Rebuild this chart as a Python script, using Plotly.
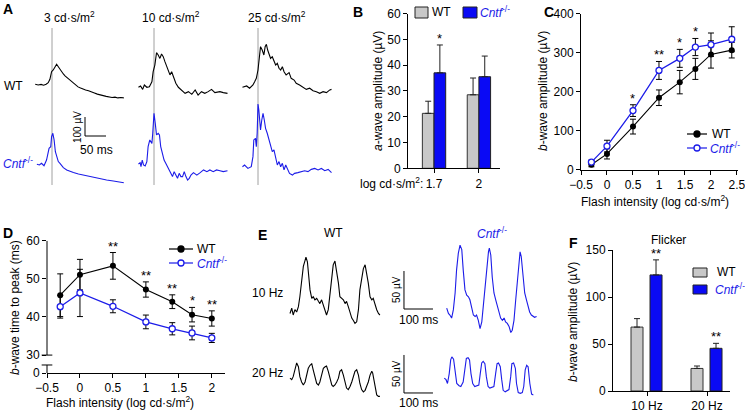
import plotly.graph_objects as go

W, H = 745, 412
FONT = "Liberation Sans, Arial, sans-serif"
BLUE = "#1c1ce8"
BAR_BLUE = "#0a0af5"
GRAY = "#c8c8c8"
CNTF_BLUE = "<span style='color:#1c1ce8'><i>Cntf</i><sup>-/-</sup></span>"

# ---- A: flash ERG traces (time from flash in ms, amplitude in µV) ----
A_WT3_T = [-40, -33, -26, -20, -14, -9, -5, -1, 3, 7, 11, 15, 19, 23, 27, 31, 36, 41, 46, 51,
           56, 62, 68, 74, 80, 87, 94, 101, 108, 115, 122, 129, 136, 143, 150, 157, 164, 171]
A_WT3_V = [4, 0, 3, -1, 4, 12, 30, 70, 79, 96, 109, 96, 82, 68, 58, 48, 38, 28, 18, 10,
           2, -10, -16, -22, -26, -30, -38, -42, -48, -54, -56, -60, -62, -66, -64, -68, -66, -68]
A_CN3_T = [-36, -30, -25, -19, -13, -10, -7, -3, -1, 2, 5, 8, 11, 15, 19, 27, 35, 43, 51, 63,
           75, 86, 98, 114, 130, 146, 162, 171]
A_CN3_V = [4, 0, 9, -4, 26, 70, 88, 96, 149, 167, 132, 70, 44, 18, 9, -14, -26, -35, -40, -47,
           -53, -61, -65, -71, -79, -84, -88, -93]
A_WT10_T = [-37, -32, -27, -23, -17, -11, -5, -2, 2, 6, 10, 14, 18, 22, 26, 30, 34, 38, 42, 46,
            52, 58, 66, 74, 82, 90, 98, 105, 113, 121, 129, 137, 145, 157, 165, 175]
A_WT10_V = [-12, -5, -23, 0, -12, -9, 17, 70, 105, 170, 158, 140, 163, 149, 123, 96, 70, 53, 70, 44,
            9, -12, -26, -44, -35, -49, -26, -53, -35, -44, -35, -23, -40, -35, -40, -44]
A_CN10_T = [-37, -33, -31, -28, -25, -21, -17, -14, -10, -5, -3, 0, 3, 6, 10, 13, 16, 20, 24, 28,
            32, 36, 40, 44, 48, 52, 56, 60, 64, 68, 72, 76, 80, 84, 88, 94, 102, 110, 118, 126,
            133, 141, 149, 157, 165, 175]
A_CN10_V = [5, 12, -9, 26, 0, -5, 18, 97, 132, 114, 167, 272, 219, 158, 167, 158, 97, 53, 26, 9,
            -9, -26, -44, -61, -35, -53, -70, -44, -61, -61, -35, -61, -79, -70, -53, -40, -53, -40, -26, -35,
            -26, -35, -26, -30, -35, -30]
A_WT25_T = [-37, -27, -20, -12, -8, -4, 0, 4, 6, 10, 14, 17, 20, 23, 26, 30, 34, 38, 42, 46,
            50, 54, 58, 62, 67, 74, 79, 86, 91, 99, 107, 115, 123, 131, 139, 147, 155, 163, 171, 175]
A_WT25_V = [-12, -5, -17, 0, 17, 35, 79, 149, 202, 184, 158, 202, 214, 184, 167, 140, 149, 123, 105, 114,
            88, 79, 96, 70, 53, 65, 35, 26, 9, 0, -12, -23, -17, -30, -35, -44, -35, -40, -26, -23]
A_CN25_T = [-37, -32, -24, -16, -12, -10, -6, -4, -2, 0, 2, 6, 9, 12, 15, 18, 22, 26, 30, 34,
            38, 42, 46, 50, 54, 58, 62, 66, 70, 75, 82, 87, 95, 103, 111, 119, 127, 135, 143, 151,
            159, 167, 175]
A_CN25_V = [-9, 0, -18, -9, 44, 132, 140, 96, 167, 321, 289, 184, 237, 272, 237, 193, 167, 132, 96, 70,
            79, 44, 0, 18, -9, 9, -26, 0, -18, -44, -53, -44, -40, -35, -30, -35, -23, -18, -26, -18,
            -30, -23, -40]
A_TITLES = ["3 cd·s/m<sup>2</sup>", "10 cd·s/m<sup>2</sup>", "25 cd·s/m<sup>2</sup>"]

# ---- B: a-wave amplitude ----
B_CATS = ["1.7", "2"]
B_WT = [21.3, 28.5]
B_WT_ERR = [4.7, 6.5]
B_CN = [37.0, 35.5]
B_CN_ERR = [10.8, 8.0]
B_STARS = ["*", ""]

# ---- C: b-wave amplitude vs intensity ----
C_X = [-0.3, 0, 0.5, 1, 1.4, 1.7, 2, 2.4]
C_WT = [12, 40, 110, 184, 224, 258, 295, 306]
C_WT_ERR = [5, 13, 19, 20, 30, 27, 35, 20]
C_CN = [19, 60, 151, 254, 285, 314, 320, 334]
C_CN_ERR = [5, 15, 15, 23, 23, 22, 30, 32]
C_STARS = ["", "", "*", "**", "*", "*", "", ""]

# ---- D: b-wave time to peak ----
D_X = [-0.3, 0, 0.5, 1, 1.4, 1.7, 2]
D_WT = [45.7, 51.1, 53.4, 47.2, 44.0, 40.6, 39.6]
D_WT_ERR = [5.6, 4.0, 3.5, 2.0, 1.8, 1.9, 2.0]
D_CN = [42.7, 46.3, 42.8, 38.7, 36.9, 35.8, 34.5]
D_CN_ERR = [3.0, 6.2, 1.7, 1.8, 1.6, 1.8, 1.2]
D_STARS = ["", "", "**", "**", "**", "*", "**"]

# ---- E: flicker traces (time in ms from trace start, amplitude in µV) ----
E_WT10_T = [0, 6, 11, 17, 23, 29, 34, 40, 46, 52, 55, 60, 64, 69, 75, 80, 86, 92, 98, 103,
            109, 115, 121, 126, 132, 138, 144, 149, 155, 161, 167, 172, 178, 184, 190, 195, 201, 207, 213, 218,
            224, 230, 236, 241, 247, 253, 259, 264, 270, 276, 282, 287, 293, 299, 305, 310]
E_WT10_V = [2, 9, 0, 7, 4, 11, 24, 46, 64, 72, 76, 70, 50, 33, 22, 24, 20, 22, 18, 15,
            20, 13, 7, 0, 7, 28, 53, 66, 71, 59, 42, 24, 22, 20, 15, 18, 11, 2, -4, -7,
            -11, -9, 7, 33, 50, 61, 66, 57, 42, 24, 20, 22, 13, 7, 2, 0]
E_CN10_T = [0, 6, 11, 17, 23, 29, 34, 40, 46, 52, 57, 63, 69, 75, 80, 86, 92, 98, 103, 109,
            115, 121, 126, 132, 138, 144, 147, 152, 157, 163, 169, 175, 180, 186, 192, 198, 203, 209, 215, 221,
            226, 232, 238, 244, 249, 253, 257, 263, 269, 275, 280, 286, 292, 298, 303, 310]
E_CN10_V = [9, 2, 0, -4, 7, 29, 59, 81, 92, 86, 59, 33, 26, 24, 20, 11, 0, -2, 0, -7,
            -18, -9, 11, 37, 68, 83, 88, 79, 50, 29, 20, 11, 2, -4, -7, -4, -9, -11, -15, -23,
            -20, -7, 20, 50, 72, 83, 77, 50, 29, 20, 11, 4, 0, -2, -3, -2]
E_WT20_T = [0, 6, 11, 17, 23, 29, 34, 40, 46, 52, 57, 63, 69, 75, 80, 86, 92, 98, 103, 109,
            115, 121, 126, 132, 138, 144, 149, 155, 161, 167, 172, 178, 184, 190, 195, 201, 207, 213, 218, 224,
            230, 236, 241, 247, 253, 259, 264, 270, 276, 282, 285, 290, 294, 299, 305, 310]
E_WT20_V = [9, 7, 11, 20, 29, 24, 11, 4, 0, 4, 11, 22, 26, 28, 20, 9, 2, 0, 4, 13,
            22, 24, 25, 18, 7, 0, -2, 0, 4, 9, 18, 20, 13, 2, -4, -6, -2, 4, 11, 18,
            20, 13, 2, -6, -9, -7, -2, 4, 13, 18, 16, 4, -7, -13, -15, -15]
E_CN20_T = [0, 6, 11, 17, 22, 26, 32, 37, 43, 51, 57, 65, 71, 76, 82, 87, 92, 98, 105, 112,
            119, 124, 129, 134, 140, 145, 151, 157, 164, 171, 177, 182, 187, 193, 198, 203, 210, 217, 223, 229,
            233, 239, 245, 249, 255, 262, 269, 274, 279, 284, 289, 295, 301, 307]
E_CN20_V = [9, 7, 2, 15, 33, 37, 34, 15, 2, -1, -2, 4, 24, 35, 36, 33, 15, 2, -2, -1,
            0, 15, 29, 31, 28, 11, -2, -4, -3, -2, 15, 28, 29, 24, 7, -7, -9, -7, -6, 11,
            28, 29, 22, 2, -10, -11, -10, -2, 20, 26, 24, 2, -12, -13]

# ---- F: flicker b-wave amplitude ----
F_CATS = ["10 Hz", "20 Hz"]
F_WT = [68, 24]
F_WT_ERR = [9, 2.6]
F_CN = [123.5, 45.4]
F_CN_ERR = [16, 5.3]
F_STARS = ["**", "**"]

# scale bars
A_BAR_UV, A_BAR_MS = 100, 50
E_BAR_UV, E_BAR_MS = 50, 100


def dom_x(a, b):
    return [a / W, b / W]


def dom_y(top, bottom):
    return [1 - bottom / H, 1 - top / H]


def px(x, y):
    return x / W, 1 - y / H


def hidden(domain, rng, anchor):
    return dict(domain=domain, range=rng, anchor=anchor, visible=False, fixedrange=True,
                automargin=False)


def shown(domain, anchor, **kw):
    base = dict(domain=domain, anchor=anchor, showline=True, linecolor="black", linewidth=1,
                ticks="outside", ticklen=4, tickwidth=1, tickcolor="black", showgrid=False,
                zeroline=False, tickfont=dict(size=12, color="black"), fixedrange=True,
                automargin=False, ticklabeloverflow="allow")
    base.update(kw)
    return base


fig = go.Figure()
layout = {}
annotations = []
shapes = []


def label(text, xx, yy, size=12, angle=0, xanchor="center"):
    x, y = px(xx, yy)
    annotations.append(dict(x=x, y=y, xref="paper", yref="paper", text=text, showarrow=False,
                            textangle=angle, xanchor=xanchor, yanchor="middle", font=dict(size=size)))


def star(text, x, y, axis):
    annotations.append(dict(x=x, y=y, xref=f"x{axis}", yref=f"y{axis}", text=text, showarrow=False,
                            xanchor="center", yanchor="bottom", yshift=-3, font=dict(size=13)))


def key_box(x0, x1, y0, y1, fill):
    shapes.append(dict(type="rect", xref="paper", yref="paper", x0=x0 / W, x1=x1 / W,
                       y0=1 - y1 / H, y1=1 - y0 / H, fillcolor=fill, line=dict(color="#222", width=1)))


def key_line(x0, x1, y, color, filled):
    shapes.append(dict(type="line", xref="paper", yref="paper", x0=x0 / W, x1=x1 / W,
                       y0=1 - y / H, y1=1 - y / H, line=dict(color=color, width=1.2)))
    xc = (x0 + x1) / 2
    shapes.append(dict(type="circle", xref="paper", yref="paper", x0=(xc - 3) / W, x1=(xc + 3) / W,
                       y0=1 - (y + 3) / H, y1=1 - (y - 3) / H,
                       fillcolor=color if filled else "white", line=dict(color=color, width=1.3)))


# ---------- A ----------
a_cols = [52, 154, 258]
a_traces = [(A_WT3_T, A_WT3_V, A_CN3_T, A_CN3_V),
            (A_WT10_T, A_WT10_V, A_CN10_T, A_CN10_V),
            (A_WT25_T, A_WT25_V, A_CN25_T, A_CN25_V)]
for i, (c, (wt_t, wt_v, cn_t, cn_v)) in enumerate(zip(a_cols, a_traces)):
    wi, ci = i + 1, i + 4
    xr = [-19 / 0.42, 75 / 0.42]
    for k in (wi, ci):
        layout[f"xaxis{k}"] = hidden(dom_x(c - 19, c + 75), xr, f"y{k}")
    layout[f"yaxis{wi}"] = hidden(dom_y(20, 110), [(85 - 110) / 0.19, (85 - 20) / 0.19], f"x{wi}")
    layout[f"yaxis{ci}"] = hidden(dom_y(100, 195), [(165 - 195) / 0.19, (165 - 100) / 0.19], f"x{ci}")
    shapes.append(dict(type="line", xref=f"x{wi}", yref="paper", x0=0, x1=0,
                       y0=1 - 185 / H, y1=1 - 28 / H, line=dict(color="#a0a0a0", width=1),
                       layer="below"))
    fig.add_trace(go.Scatter(x=wt_t, y=wt_v, mode="lines", line=dict(color="black", width=1.1),
                             xaxis=f"x{wi}", yaxis=f"y{wi}", showlegend=False, hoverinfo="skip"))
    fig.add_trace(go.Scatter(x=cn_t, y=cn_v, mode="lines", line=dict(color=BLUE, width=1.1),
                             xaxis=f"x{ci}", yaxis=f"y{ci}", showlegend=False, hoverinfo="skip"))
    label(A_TITLES[i], [69, 171, 277][i], 17)

# A scale bar in the Cntf 3 cd axes
sx0, sy0 = 78.6, 152.6
shapes.append(dict(type="path", xref="x4", yref="y4",
                   path=f"M {sx0},{sy0 + A_BAR_UV} L {sx0},{sy0} L {sx0 + A_BAR_MS},{sy0}",
                   line=dict(color="black", width=1)))
label(f"{A_BAR_UV} µV", 78, 127, size=10, angle=-90)
label(f"{A_BAR_MS} ms", 97, 150)
label("WT", 14, 86)
label(CNTF_BLUE, 18, 163)

# ---------- B ----------
layout["xaxis7"] = shown(dom_x(408, 500), "y7", type="category", range=[-0.58, 1.47])
layout["yaxis7"] = shown(dom_y(13.5, 168.3), "x7", range=[0, 60], dtick=10)
label("<i>a</i>-wave amplitude (µV)", 378, 91, angle=-90)
bw = 0.26
fig.add_trace(go.Bar(x=B_CATS, y=B_WT, width=bw, offset=-bw, name="WT", showlegend=False,
                     marker=dict(color=GRAY, line=dict(color="#333", width=1)),
                     error_y=dict(type="data", array=B_WT_ERR, arrayminus=[0] * len(B_WT), symmetric=False,
                                  color="#222", thickness=1, width=3),
                     xaxis="x7", yaxis="y7", hoverinfo="skip"))
fig.add_trace(go.Bar(x=B_CATS, y=B_CN, width=bw, offset=0, name="Cntf-/-", showlegend=False,
                     marker=dict(color=BAR_BLUE, line=dict(color="#222", width=1)),
                     error_y=dict(type="data", array=B_CN_ERR, arrayminus=[0] * len(B_CN), symmetric=False,
                                  color="#222", thickness=1, width=3),
                     xaxis="x7", yaxis="y7", hoverinfo="skip"))
for i, s in enumerate(B_STARS):
    if s:
        star(s, i + bw / 2, B_CN[i] + B_CN_ERR[i], 7)
label("log cd·s/m<sup>2</sup>:", 391, 183)
key_box(415, 428, 7, 18, GRAY)
label("WT", 430, 12, xanchor="left")
key_box(463, 477, 7, 18, BAR_BLUE)
label(CNTF_BLUE, 478, 12, xanchor="left")

# ---------- C ----------
layout["xaxis8"] = shown(dom_x(581, 738), "y8", range=[-0.5, 2.52], tick0=-0.5, dtick=0.5)
layout["yaxis8"] = shown(dom_y(13.5, 169.5), "x8", range=[0, 400], dtick=100)
label("Flash intensity (log cd·s/m<sup>2</sup>)", 655, 201)
label("<i>b</i>-wave amplitude (µV)", 543, 91, angle=-90)
err = dict(type="data", thickness=1, width=3)
fig.add_trace(go.Scatter(x=C_X, y=C_WT, mode="lines+markers", name="WT", showlegend=False,
                         line=dict(color="black", width=1.1), marker=dict(color="black", size=6),
                         error_y=dict(err, array=C_WT_ERR, color="black"),
                         xaxis="x8", yaxis="y8", hoverinfo="skip"))
fig.add_trace(go.Scatter(x=C_X, y=C_CN, mode="lines+markers", name="Cntf-/-", showlegend=False,
                         line=dict(color=BLUE, width=1.3),
                         marker=dict(color="white", size=6, line=dict(color=BLUE, width=1.3)),
                         error_y=dict(err, array=C_CN_ERR, color="black"),
                         xaxis="x8", yaxis="y8", hoverinfo="skip"))
for xv, v, e, s in zip(C_X, C_CN, C_CN_ERR, C_STARS):
    if s:
        star(s, xv, v + e, 8)
key_line(687, 707, 134, "black", True)
label("WT", 710, 134, xanchor="left")
key_line(687, 707, 148, BLUE, False)
label(CNTF_BLUE, 708, 148, xanchor="left")

# ---------- D ----------
D_ZERO = 25.3
layout["xaxis9"] = shown(dom_x(47, 225), "y9", range=[-0.5, 2.2], tick0=-0.5, dtick=0.5)
layout["yaxis9"] = shown(dom_y(240.7, 373), "x9", range=[D_ZERO, 60], showline=False,
                         tickvals=[D_ZERO, 30, 40, 50, 60], ticktext=["0", "30", "40", "50", "60"])
label("Flash intensity (log cd·s/m<sup>2</sup>)", 120, 402)
label("<i>b</i>-wave time to peak (ms)", 15, 308, angle=-90)
for y0, y1 in [(30, 60), (D_ZERO, 27.4)]:
    shapes.append(dict(type="line", xref="x9 domain", yref="y9", x0=0, x1=0, y0=y0, y1=y1,
                       line=dict(color="black", width=1)))
for yv in (30, 27.4):
    shapes.append(dict(type="line", xref="x9 domain", yref="y9", x0=-0.03, x1=0.03, y0=yv, y1=yv,
                       line=dict(color="black", width=1)))
fig.add_trace(go.Scatter(x=D_X, y=D_WT, mode="lines+markers", name="WT", showlegend=False,
                         line=dict(color="black", width=1.1), marker=dict(color="black", size=6),
                         error_y=dict(err, array=D_WT_ERR, color="black"),
                         xaxis="x9", yaxis="y9", hoverinfo="skip"))
fig.add_trace(go.Scatter(x=D_X, y=D_CN, mode="lines+markers", name="Cntf-/-", showlegend=False,
                         line=dict(color=BLUE, width=1.3),
                         marker=dict(color="white", size=6, line=dict(color=BLUE, width=1.3)),
                         error_y=dict(err, array=D_CN_ERR, color="black"),
                         xaxis="x9", yaxis="y9", hoverinfo="skip"))
for xv, v, e, s in zip(D_X, D_WT, D_WT_ERR, D_STARS):
    if s:
        star(s, xv, v + e, 9)
key_line(169, 193, 249, "black", True)
label("WT", 195, 249, xanchor="left")
key_line(169, 193, 263, BLUE, False)
label(CNTF_BLUE, 195, 263, xanchor="left")

# ---------- E ----------
wt_xr = [(285 - 290) / 0.29, (440 - 290) / 0.29]
layout["xaxis10"] = hidden(dom_x(285, 440), wt_xr, "y10")
layout["xaxis12"] = hidden(dom_x(285, 440), wt_xr, "y12")
layout["xaxis11"] = hidden(dom_x(440, 545), [(440 - 446.7) / 0.29, (545 - 446.7) / 0.29], "y11")
layout["xaxis13"] = hidden(dom_x(440, 545), [(440 - 444.3) / 0.29, (545 - 444.3) / 0.29], "y13")
top_yr = [(315 - 335) / 0.76, (315 - 240) / 0.76]
bot_yr = [(385 - 400) / 0.76, (385 - 345) / 0.76]
layout["yaxis10"] = hidden(dom_y(240, 335), top_yr, "x10")
layout["yaxis11"] = hidden(dom_y(240, 335), top_yr, "x11")
layout["yaxis12"] = hidden(dom_y(345, 400), bot_yr, "x12")
layout["yaxis13"] = hidden(dom_y(345, 400), bot_yr, "x13")
for k, t, v, col in [(10, E_WT10_T, E_WT10_V, "black"), (11, E_CN10_T, E_CN10_V, BLUE),
                     (12, E_WT20_T, E_WT20_V, "black"), (13, E_CN20_T, E_CN20_V, BLUE)]:
    fig.add_trace(go.Scatter(x=t, y=v, mode="lines", line=dict(color=col, width=1.1),
                             xaxis=f"x{k}", yaxis=f"y{k}", showlegend=False, hoverinfo="skip"))
for k, base in [(10, 7.9), (12, -10.5)]:
    shapes.append(dict(type="path", xref=f"x{k}", yref=f"y{k}",
                       path=f"M 393,{base + E_BAR_UV} L 393,{base} L {393 + E_BAR_MS},{base}",
                       line=dict(color="black", width=1)))
label("WT", 333, 233)
label(CNTF_BLUE, 492, 233)
label("10 Hz", 267, 293)
label("20 Hz", 267, 373)
for yy in (290, 374):
    label(f"{E_BAR_UV} µV", 396, yy, size=10, angle=-90)
for yy in (320, 403):
    label(f"{E_BAR_MS} ms", 418, yy)

# ---------- F ----------
layout["xaxis14"] = shown(dom_x(613, 730), "y14", type="category", range=[-0.567, 1.383])
layout["yaxis14"] = shown(dom_y(250, 391), "x14", range=[0, 150], dtick=50)
label("<i>b</i>-wave amplitude (µV)", 573, 322, angle=-90)
fw = 0.2
fig.add_trace(go.Bar(x=F_CATS, y=F_WT, width=fw, offset=-0.267, name="WT", showlegend=False,
                     marker=dict(color=GRAY, line=dict(color="#333", width=1)),
                     error_y=dict(type="data", array=F_WT_ERR, arrayminus=[0] * len(F_WT), symmetric=False,
                                  color="#222", thickness=1, width=3),
                     xaxis="x14", yaxis="y14", hoverinfo="skip"))
fig.add_trace(go.Bar(x=F_CATS, y=F_CN, width=fw, offset=0.05, name="Cntf-/-", showlegend=False,
                     marker=dict(color=BAR_BLUE, line=dict(color="#222", width=1)),
                     error_y=dict(type="data", array=F_CN_ERR, arrayminus=[0] * len(F_CN), symmetric=False,
                                  color="#222", thickness=1, width=3),
                     xaxis="x14", yaxis="y14", hoverinfo="skip"))
for i, s in enumerate(F_STARS):
    if s:
        star(s, i + 0.05 + fw / 2, F_CN[i] + F_CN_ERR[i], 14)
label("Flicker", 668, 240)
key_box(693, 707, 268, 277, GRAY)
label("WT", 715, 272, xanchor="left")
key_box(693, 707, 285, 294, BAR_BLUE)
label(CNTF_BLUE, 713, 289, xanchor="left")

# panel letters
for letter, xx, yy in [("A", 8, 9), ("B", 358, 12), ("C", 549, 12), ("D", 8, 233), ("E", 262, 235), ("F", 573, 243)]:
    label(f"<b>{letter}</b>", xx, yy, size=14)

fig.update_layout(
    width=W, height=H, margin=dict(l=0, r=0, t=0, b=0, autoexpand=False),
    paper_bgcolor="white", plot_bgcolor="rgba(0,0,0,0)",
    font=dict(family=FONT, color="black", size=12),
    barmode="overlay", showlegend=False,
    annotations=annotations, shapes=shapes,
    **layout,
)

fig.write_html("out.html", config={"displayModeBar": False},
               post_script="document.body.style.margin='0px';")
